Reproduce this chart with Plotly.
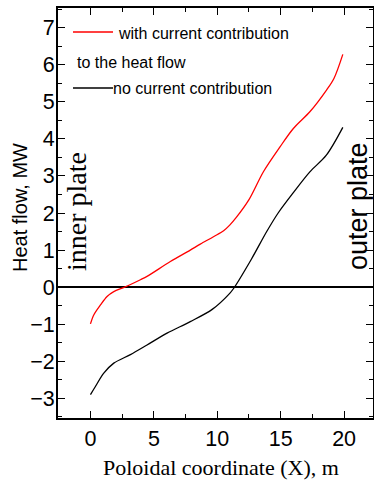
import plotly.graph_objects as go

# Data
x_with = [0, 0.26, 0.79, 1.31, 1.84, 2.7, 3.94, 4.46, 6.3, 7.87, 8.66, 9.7, 10.5, 11.0,
          11.5, 12.5, 13.65, 14.96, 16.0, 17.3, 18.6, 19.2, 19.9]
y_with = [-0.99, -0.75, -0.48, -0.25, -0.12, 0.0, 0.2, 0.29, 0.69, 1.0, 1.16, 1.36, 1.52, 1.68,
          1.88, 2.36, 3.12, 3.79, 4.28, 4.73, 5.31, 5.63, 6.28]

x_no = [0, 0.39, 1.05, 1.84, 3.15, 4.46, 6.04, 7.87, 9.6, 11.0, 11.3, 12.7, 13.9, 14.8,
        16.0, 17.3, 18.6, 19.9]
y_no = [-2.9, -2.68, -2.32, -2.05, -1.82, -1.56, -1.24, -0.93, -0.6, -0.16, -0.03, 0.76, 1.5, 2.0,
        2.55, 3.11, 3.56, 4.31]

x_ticks = [0, 5, 10, 15, 20]
y_ticks = [-3, -2, -1, 0, 1, 2, 3, 4, 5, 6, 7]

name_with = "with current contribution"
name_with2 = "to the heat flow"
name_no = "no current contribution"
x_title = "Poloidal coordinate (X), m"
y_title = "Heat flow, MW"

W, H = 374, 485
ML, MR, MT, MB = 58, 1, 8, 67
PW, PH = W - ML - MR, H - MT - MB


def px(xp):
    return (xp - ML) / PW


def py(yp):
    return (H - MB - yp) / PH


fig = go.Figure()
fig.add_trace(go.Scatter(x=x_with, y=y_with, mode="lines", name=name_with,
                         line=dict(color="#ff0000", width=1.3, shape="spline", smoothing=0.9),
                         showlegend=False))
fig.add_trace(go.Scatter(x=x_no, y=y_no, mode="lines", name=name_no,
                         line=dict(color="#000000", width=1.3, shape="spline", smoothing=0.9),
                         showlegend=False))

axis_font = dict(family="Arial, Liberation Sans, sans-serif", size=21.5, color="black")

fig.update_xaxes(range=[-2.56, 22.28], tickvals=x_ticks, ticks="inside", ticklen=7,
                 tickwidth=1, tickcolor="black", showline=True, linewidth=1.8, linecolor="black",
                 mirror="ticks", showgrid=False, zeroline=False, tickfont=axis_font,
                 minor=dict(dtick=2.5, ticks="inside", ticklen=4, tickcolor="black", showgrid=False))
fig.update_yaxes(range=[-3.53, 7.53], tickvals=y_ticks, ticks="inside", ticklen=7,
                 tickwidth=1, tickcolor="black", showline=True, linewidth=1.8, linecolor="black",
                 mirror="ticks", showgrid=False, zeroline=True, zerolinecolor="black",
                 zerolinewidth=2, tickfont=axis_font, ticklabelstandoff=-3,
                 minor=dict(dtick=0.5, ticks="inside", ticklen=4, tickcolor="black", showgrid=False))

# Axis titles
fig.add_annotation(text=x_title, xref="paper", yref="paper", x=px(221), y=py(467),
                   xanchor="center", yanchor="middle", showarrow=False,
                   font=dict(family="Times New Roman, Liberation Serif, serif", size=22, color="black"))
fig.add_annotation(text=y_title, xref="paper", yref="paper", x=px(20), y=py(208),
                   xanchor="center", yanchor="middle", textangle=-90, showarrow=False,
                   font=dict(family="Arial, Liberation Sans, sans-serif", size=20, color="black"))

# Legend drawn manually
fig.add_shape(type="line", xref="paper", yref="paper", x0=px(73), x1=px(113), y0=py(32), y1=py(32),
              line=dict(color="#ff0000", width=1.3))
fig.add_shape(type="line", xref="paper", yref="paper", x0=px(73), x1=px(113), y0=py(88), y1=py(88),
              line=dict(color="#000000", width=1.3))

leg_font = dict(family="Arial, Liberation Sans, sans-serif", size=16, color="black")
fig.add_annotation(text=name_with, xref="paper", yref="paper", x=px(116), y=py(34),
                   xanchor="left", yanchor="middle", showarrow=False, font=leg_font)
fig.add_annotation(text=name_with2, xref="paper", yref="paper", x=px(75), y=py(62),
                   xanchor="left", yanchor="middle", showarrow=False, font=leg_font)
fig.add_annotation(text=name_no, xref="paper", yref="paper", x=px(111), y=py(89),
                   xanchor="left", yanchor="middle", showarrow=False, font=leg_font)

# Plate labels
fig.add_annotation(text="inner plate", xref="paper", yref="paper", x=px(76), y=py(212),
                   xanchor="center", yanchor="middle", textangle=-90, showarrow=False,
                   font=dict(family="Times New Roman, Liberation Serif, serif", size=28, color="black"))
fig.add_annotation(text="outer plate", xref="paper", yref="paper", x=px(358), y=py(206),
                   xanchor="center", yanchor="middle", textangle=-90, showarrow=False,
                   font=dict(family="Arial, Liberation Sans, sans-serif", size=27, color="black"))

fig.update_layout(width=W, height=H, margin=dict(l=ML, r=MR, t=MT, b=MB, autoexpand=False),
                  paper_bgcolor="white", plot_bgcolor="white", showlegend=False)

fig.write_html("out.html")
